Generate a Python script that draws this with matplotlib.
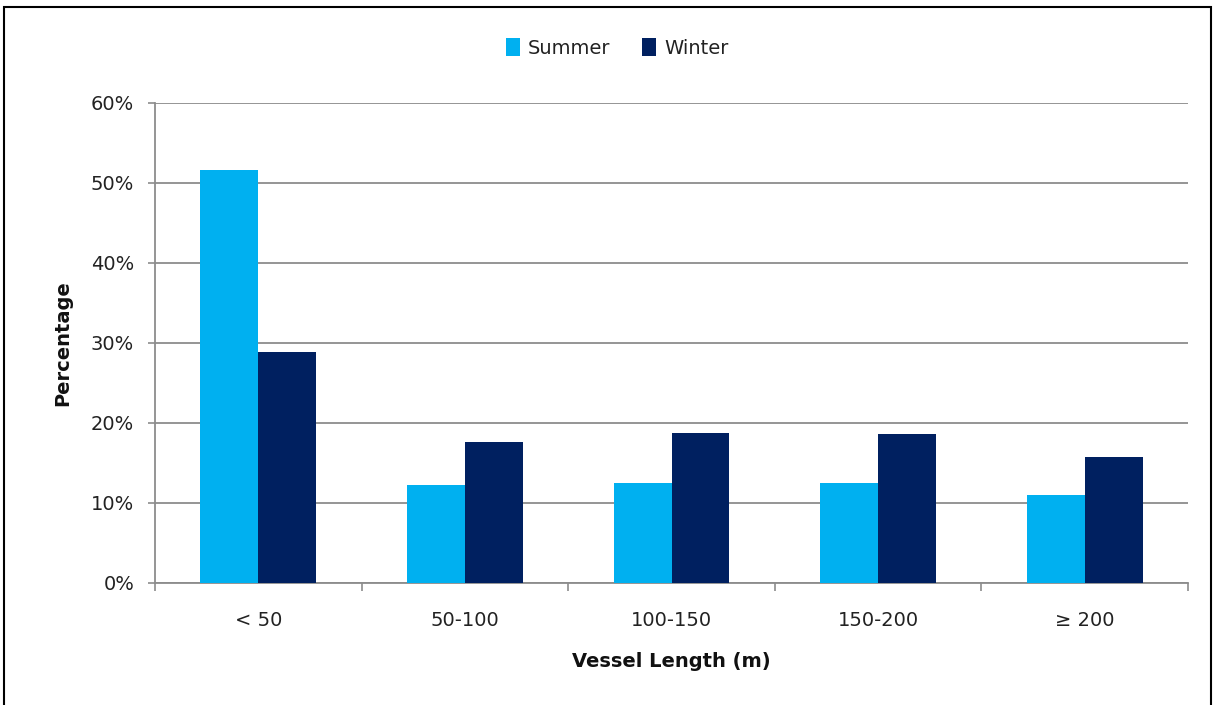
import numpy as np
import matplotlib
matplotlib.use("Agg")
import matplotlib.pyplot as plt
from matplotlib.patches import Rectangle
from matplotlib.ticker import FuncFormatter, FixedLocator

categories = ["< 50", "50-100", "100-150", "150-200", "\u2265 200"]
summer = [51.6, 12.2, 12.5, 12.5, 11.0]
winter = [28.9, 17.6, 18.8, 18.6, 15.8]

plt.rcParams['font.family'] = ['DejaVu Sans']

fig = plt.figure(figsize=(12.14, 7.05), dpi=100)
ax = fig.add_axes([155 / 1214, 1 - 583 / 705, (1188 - 155) / 1214, (583 - 103) / 705])

x = np.arange(len(categories))
w = 0.28
ax.bar(x - w / 2, summer, w, color="#00B0F0", label="Summer", zorder=3)
ax.bar(x + w / 2, winter, w, color="#002060", label="Winter", zorder=3)

ax.set_xlim(-0.5, len(categories) - 0.5)
ax.set_ylim(0, 60)
ax.set_yticks(np.arange(0, 61, 10))
ax.yaxis.set_major_formatter(FuncFormatter(lambda v, p: f"{v:.0f}%"))
ax.grid(axis="y", color="#8c8c8c", linewidth=1.3, zorder=0)

ax.set_xticks(x)
ax.set_xticklabels(categories)
ax.xaxis.set_minor_locator(FixedLocator(np.arange(-0.5, len(categories), 1)))
ax.tick_params(axis="x", which="major", length=0, pad=20, labelsize=14, labelcolor="#222222")
ax.tick_params(axis="x", which="minor", length=6, width=1.2, color="#8c8c8c")
ax.tick_params(axis="y", length=5, width=1.2, color="#8c8c8c", labelsize=14, pad=10,
               labelcolor="#222222")

for s in ["top", "right"]:
    ax.spines[s].set_visible(False)
for s in ["left", "bottom"]:
    ax.spines[s].set_color("#8c8c8c")
    ax.spines[s].set_linewidth(1.3)

ax.set_xlabel("Vessel Length (m)", fontsize=14, fontweight="bold", labelpad=16, color="#111111")
ax.set_ylabel("Percentage", fontsize=14, fontweight="bold", labelpad=13, color="#111111")

fig.legend(loc="center", bbox_to_anchor=(617 / 1214, 1 - 48 / 705), ncol=2, frameon=False,
           fontsize=14, handlelength=0.75, handleheight=1.0, handletextpad=0.4,
           columnspacing=1.6, labelcolor="#222222")

fig.patches.append(Rectangle((4 / 1214, -0.1), 1207 / 1214, 1.1 - 7 / 705,
                             transform=fig.transFigure, fill=False,
                             edgecolor="black", linewidth=1.5))

fig.savefig("out.png", dpi=100)
